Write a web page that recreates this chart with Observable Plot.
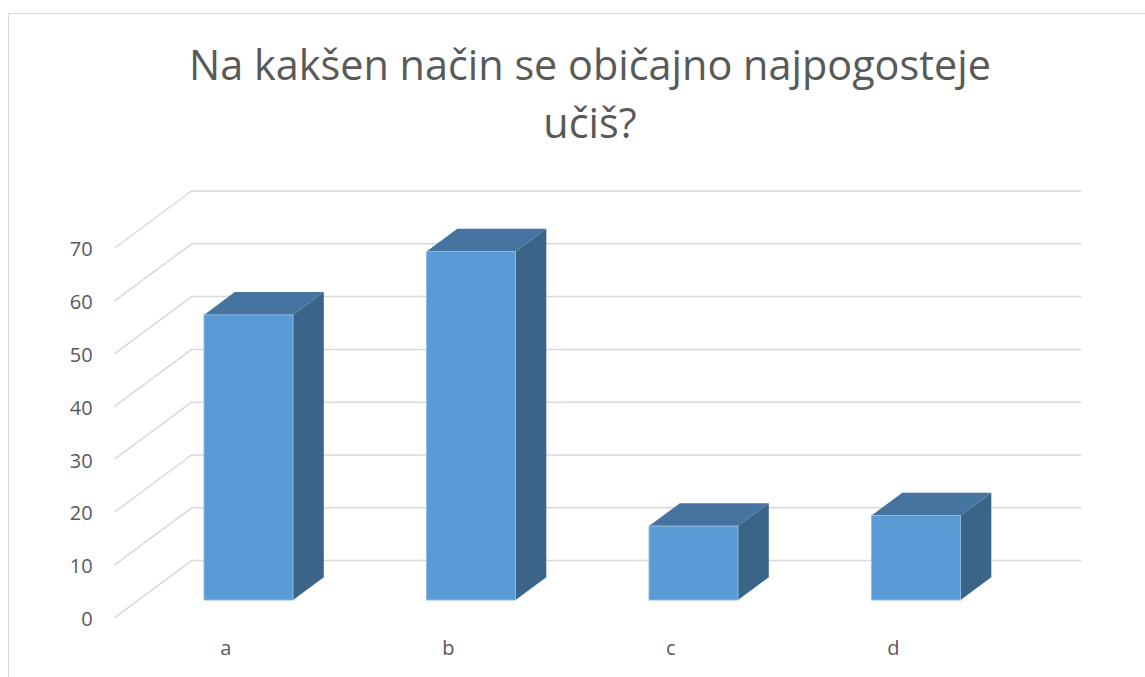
<!DOCTYPE html>
<html>
<head>
<meta charset="utf-8">
<script src="https://cdn.jsdelivr.net/npm/d3@7"></script>
<script src="https://cdn.jsdelivr.net/npm/@observablehq/plot@0.6"></script>
<style>
  html, body { margin: 0; padding: 0; background: #fff; }
  #wrap { position: relative; width: 1145px; height: 677px; overflow: hidden; background: #fff; }
  #border { position: absolute; left: 8px; top: 13px; width: 1200px; height: 800px; border: 1.5px solid #d9d9d9; box-sizing: border-box; }
  .title { position: absolute; left: 0; width: 1180px; text-align: center; font-family: "Open Sans", sans-serif; font-size: 41.4px; line-height: 41.4px; color: #595959; white-space: nowrap; }
  #chart { position: absolute; left: 0; top: 0; }
</style>
</head>
<body>
<div id="wrap">
  <div id="border"></div>
  <div id="chart"></div>
  <div class="title" id="t1" style="top:44px">Na kakšen način se običajno najpogosteje</div>
  <div class="title" id="t2" style="top:102px">učiš?</div>
</div>
<script>
// ---- data ----
const categories = ["a", "b", "c", "d"];
const values = [54, 66, 14, 16];
const yTicks = [0, 10, 20, 30, 40, 50, 60, 70];

// ---- 3D depth geometry (in data units) ----
const KX = 77 / 222.5;   // x shift per unit depth
const KY = 57 / 5.28;    // y shift per unit depth
const ZF = 0.3;          // depth of bar front face (0 = front plane, 1 = back wall)
const ZB = 0.7;          // depth of bar back face
const HW = 0.2;          // bar half width
const DZ = ZB - ZF;

const bars = categories.map((c, i) => ({c, i, v: values[i]}));

const sideData = bars.flatMap(b => [
  {c: b.c, x: b.i + HW, y1: 0, y2: b.v},
  {c: b.c, x: b.i + HW + DZ * KX, y1: DZ * KY, y2: b.v + DZ * KY}
]);
const topData = bars.flatMap(b => [
  {c: b.c, y: b.v, x1: b.i - HW, x2: b.i + HW},
  {c: b.c, y: b.v + DZ * KY, x1: b.i - HW + DZ * KX, x2: b.i + HW + DZ * KX}
]);

const chart = Plot.plot({
  width: 1145,
  height: 677,
  style: {background: "transparent", fontFamily: "'Open Sans', sans-serif"},
  x: {type: "linear", domain: [0, 3], range: [248.5, 916], axis: null},
  y: {type: "linear", domain: [0, 70], range: [600, 230.4], axis: null},
  marks: [
    // back wall gridlines
    Plot.ruleY(yTicks, {
      y: t => t + (1 - ZF) * KY,
      x1: -0.5 + (1 - ZF) * KX,
      x2: 3.5 + (1 - ZF) * KX,
      stroke: "#d9d9d9", strokeWidth: 1.5
    }),
    // left wall diagonals
    Plot.link(yTicks, {
      x1: () => -0.5 - ZF * KX,
      y1: t => t - ZF * KY,
      x2: () => -0.5 + (1 - ZF) * KX,
      y2: t => t + (1 - ZF) * KY,
      stroke: "#d9d9d9", strokeWidth: 1.5
    }),
    // side faces
    Plot.areaY(sideData, {x: "x", y1: "y1", y2: "y2", z: "c", fill: "#3a6589"}),
    // top faces
    Plot.areaX(topData, {y: "y", x1: "x1", x2: "x2", z: "c", fill: "#4574a1"}),
    // front faces
    Plot.rect(bars, {
      x1: d => d.i - HW, x2: d => d.i + HW, y1: () => 0, y2: "v",
      fill: "#5b9bd5", stroke: "#8fbbe3", strokeWidth: 1
    }),
    // y tick labels
    Plot.text(yTicks, {
      x: () => -0.5 - ZF * KX,
      y: t => t - ZF * KY,
      text: t => String(t),
      textAnchor: "end", dx: -22, dy: 2,
      fontSize: 20, fill: "#595959"
    }),
    // category labels
    Plot.text(bars, {
      x: d => d.i - ZF * KX,
      y: () => -ZF * KY,
      text: "c",
      dy: 31,
      fontSize: 20, fill: "#595959"
    })
  ]
});
document.getElementById("chart").appendChild(chart);
</script>
</body>
</html>
